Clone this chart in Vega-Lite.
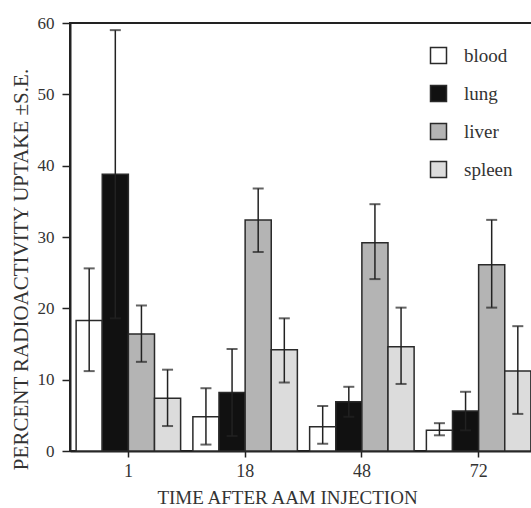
{
  "$schema": "https://vega.github.io/schema/vega-lite/v6.json",
  "autosize": "none",
  "padding": {"left": 70, "top": 23, "right": 0, "bottom": 57},
  "width": 467,
  "height": 428,
  "background": "white",
  "config": {
    "font": "Liberation Serif",
    "view": {"stroke": "#222", "strokeWidth": 2},
    "axis": {
      "labelFont": "Liberation Serif",
      "titleFont": "Liberation Serif",
      "labelColor": "#333",
      "titleColor": "#333",
      "titleFontWeight": "normal",
      "domainColor": "#222",
      "tickColor": "#222",
      "domainWidth": 2,
      "tickWidth": 1.5,
      "grid": false
    }
  },
  "data": {
    "values": [
      {"time": "1", "organ": "blood", "value": 18.3, "lo": 11.2, "hi": 25.6},
      {"time": "1", "organ": "lung", "value": 38.8, "lo": 18.6, "hi": 59.0},
      {"time": "1", "organ": "liver", "value": 16.4, "lo": 12.5, "hi": 20.4},
      {"time": "1", "organ": "spleen", "value": 7.4, "lo": 3.5, "hi": 11.4},
      {"time": "18", "organ": "blood", "value": 4.8, "lo": 0.9, "hi": 8.8},
      {"time": "18", "organ": "lung", "value": 8.2, "lo": 2.1, "hi": 14.3},
      {"time": "18", "organ": "liver", "value": 32.4, "lo": 27.9, "hi": 36.8},
      {"time": "18", "organ": "spleen", "value": 14.2, "lo": 9.6, "hi": 18.6},
      {"time": "48", "organ": "blood", "value": 3.4, "lo": 1.0, "hi": 6.3},
      {"time": "48", "organ": "lung", "value": 6.9, "lo": 4.8, "hi": 9.0},
      {"time": "48", "organ": "liver", "value": 29.2, "lo": 24.1, "hi": 34.6},
      {"time": "48", "organ": "spleen", "value": 14.6, "lo": 9.4, "hi": 20.1},
      {"time": "72", "organ": "blood", "value": 2.9, "lo": 2.2, "hi": 3.9},
      {"time": "72", "organ": "lung", "value": 5.6, "lo": 2.9, "hi": 8.3},
      {"time": "72", "organ": "liver", "value": 26.1, "lo": 20.1, "hi": 32.4},
      {"time": "72", "organ": "spleen", "value": 11.2, "lo": 5.2, "hi": 17.5}
    ]
  },
  "encoding": {
    "x": {
      "field": "time",
      "type": "nominal",
      "sort": ["1", "18", "48", "72"],
      "scale": {"paddingInner": 0.105, "paddingOuter": 0.0525},
      "axis": {
        "title": "TIME AFTER AAM INJECTION",
        "labelAngle": 0,
        "labelFontSize": 18,
        "titleFontSize": 19,
        "tickSize": 6,
        "labelPadding": 5,
        "titlePadding": 8,
        "titleX": 217
      }
    },
    "xOffset": {
      "field": "organ",
      "type": "nominal",
      "sort": ["blood", "lung", "liver", "spleen"],
      "scale": {"paddingInner": 0, "paddingOuter": 0}
    }
  },
  "layer": [
    {
      "mark": {"type": "bar", "stroke": "#2a2a2a", "strokeWidth": 1.5},
      "encoding": {
        "y": {
          "field": "value",
          "type": "quantitative",
          "scale": {"domain": [0, 60], "nice": false},
          "axis": {
            "title": "PERCENT RADIOACTIVITY UPTAKE ±S.E.",
            "values": [0, 10, 20, 30, 40, 50, 60],
            "labelFontSize": 17,
            "titleFontSize": 21,
            "tickSize": 8,
            "labelPadding": 8,
            "titleX": -49,
            "titleY": 246,
            "titleBaseline": "middle",
            "titleAngle": -90
          }
        },
        "fill": {
          "field": "organ",
          "type": "nominal",
          "sort": ["blood", "lung", "liver", "spleen"],
          "scale": {
            "domain": ["blood", "lung", "liver", "spleen"],
            "range": ["#ffffff", "#111111", "#b4b4b4", "#dcdcdc"]
          },
          "legend": {
            "title": null,
            "orient": "none",
            "legendX": 359,
            "legendY": 23,
            "symbolType": "square",
            "symbolSize": 256,
            "symbolStrokeColor": "#2a2a2a",
            "symbolStrokeWidth": 1.5,
            "symbolOpacity": 1,
            "labelFont": "Liberation Serif",
            "labelFontSize": 19,
            "labelColor": "#333",
            "labelOffset": 16,
            "rowPadding": 15
          }
        }
      }
    },
    {
      "mark": {"type": "rule", "color": "#222", "strokeWidth": 1.5},
      "encoding": {
        "y": {"field": "lo", "type": "quantitative"},
        "y2": {"field": "hi"}
      }
    },
    {
      "mark": {"type": "tick", "color": "#222", "thickness": 2, "size": 11},
      "encoding": {
        "y": {"field": "lo", "type": "quantitative"}
      }
    },
    {
      "mark": {"type": "tick", "color": "#222", "thickness": 2, "size": 11},
      "encoding": {
        "y": {"field": "hi", "type": "quantitative"}
      }
    }
  ]
}
